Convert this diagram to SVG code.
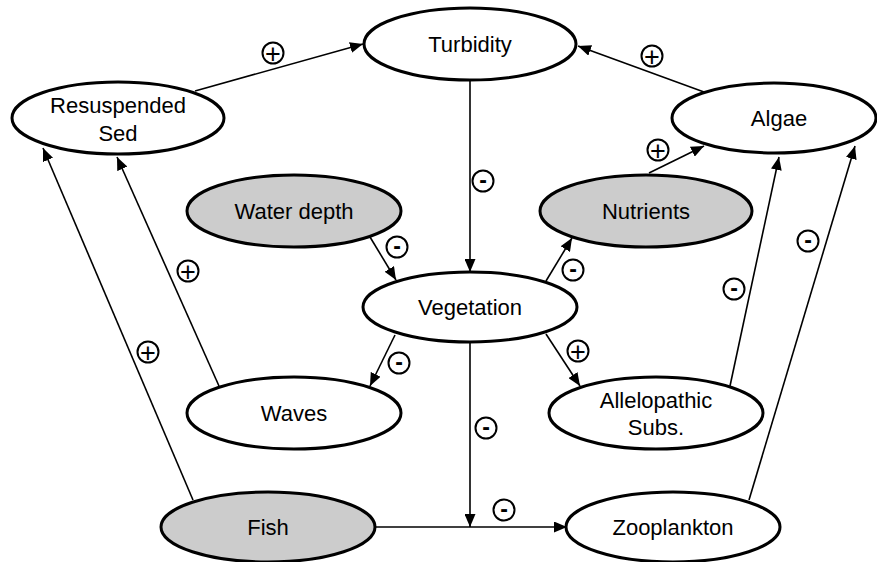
<svg xmlns="http://www.w3.org/2000/svg" width="877" height="562" viewBox="0 0 877 562">
<defs>
<marker id="arr" markerWidth="13" markerHeight="11" refX="13" refY="5.5" orient="auto" markerUnits="userSpaceOnUse">
<path d="M0,0 L13,5.5 L0,11 z" fill="#000"/>
</marker>
<style>
.node ellipse{fill:#fff;stroke:#000;stroke-width:3}
.node.grey ellipse{fill:#cccccc}
.node text{font-family:"Liberation Sans",Arial,sans-serif;font-size:22px;text-anchor:middle;fill:#000}
.edges line{stroke:#000;stroke-width:1.6;fill:none}
.edges .a{marker-end:url(#arr)}
.sign circle{fill:#fff;stroke:#000;stroke-width:2}
.sign text{font-family:"Liberation Sans",Arial,sans-serif;font-size:23px;font-weight:bold;text-anchor:middle;fill:#000}
.sign text.p{font-size:27px;font-weight:normal}
</style>
</defs>
<rect width="877" height="562" fill="#fff"/>
<g id="connectors" class="edges">
<line class="a" x1="195" y1="91" x2="363" y2="44"/>
<line class="a" x1="704" y1="92" x2="578" y2="46"/>
<line class="a" x1="470" y1="80" x2="470" y2="272"/>
<line class="a" x1="649" y1="173" x2="704" y2="146"/>
<line class="a" x1="370" y1="237" x2="396" y2="280"/>
<line class="a" x1="546" y1="281" x2="572" y2="238"/>
<line class="a" x1="395" y1="335" x2="370" y2="386"/>
<line class="a" x1="546" y1="334" x2="580" y2="386"/>
<line class="a" x1="470" y1="342" x2="470" y2="527"/>
<line class="a" x1="375" y1="527" x2="567" y2="527"/>
<line class="a" x1="219" y1="386" x2="117" y2="157"/>
<line class="a" x1="193" y1="500" x2="43" y2="148"/>
<line class="a" x1="730" y1="386" x2="779" y2="157"/>
<line class="a" x1="749" y1="500" x2="855" y2="146"/>
</g>
<g id="signs" class="sign">
<g><circle cx="273" cy="53" r="10.5"/><text class="p" x="273" y="62.5">+</text></g>
<g><circle cx="652" cy="56" r="10.5"/><text class="p" x="652" y="65.5">+</text></g>
<g><circle cx="483" cy="181" r="10.5"/><text x="483" y="188">-</text></g>
<g><circle cx="658" cy="150" r="10.5"/><text class="p" x="658" y="159.5">+</text></g>
<g><circle cx="397" cy="247" r="10.5"/><text x="397" y="254">-</text></g>
<g><circle cx="573" cy="270" r="10.5"/><text x="573" y="277">-</text></g>
<g><circle cx="399" cy="363" r="10.5"/><text x="399" y="370">-</text></g>
<g><circle cx="578" cy="351" r="10.5"/><text class="p" x="578" y="360.5">+</text></g>
<g><circle cx="486" cy="428" r="10.5"/><text x="486" y="435">-</text></g>
<g><circle cx="504" cy="510" r="10.5"/><text x="504" y="517">-</text></g>
<g><circle cx="188" cy="271" r="10.5"/><text class="p" x="188" y="280.5">+</text></g>
<g><circle cx="148" cy="352" r="10.5"/><text class="p" x="148" y="361.5">+</text></g>
<g><circle cx="734" cy="289" r="10.5"/><text x="734" y="296">-</text></g>
<g><circle cx="808" cy="241" r="10.5"/><text x="808" y="248">-</text></g>
</g>
<g id="turbidity" class="node"><ellipse cx="470" cy="44" rx="106" ry="36"/><text x="470" y="52">Turbidity</text></g>
<g id="resuspended-sed" class="node"><ellipse cx="118" cy="118" rx="106" ry="36"/><text x="118" y="113">Resuspended</text><text x="118" y="141">Sed</text></g>
<g id="algae" class="node"><ellipse cx="774" cy="118" rx="102" ry="35"/><text x="779" y="126">Algae</text></g>
<g id="water-depth" class="node grey"><ellipse cx="294" cy="211" rx="107" ry="36"/><text x="294" y="219">Water depth</text></g>
<g id="nutrients" class="node grey"><ellipse cx="646" cy="211" rx="106" ry="36"/><text x="646" y="219">Nutrients</text></g>
<g id="vegetation" class="node"><ellipse cx="470" cy="307" rx="107" ry="35"/><text x="470" y="315">Vegetation</text></g>
<g id="waves" class="node"><ellipse cx="294" cy="413" rx="107" ry="36"/><text x="294" y="421">Waves</text></g>
<g id="allelopathic-subs" class="node"><ellipse cx="656" cy="413" rx="107" ry="36"/><text x="656" y="408">Allelopathic</text><text x="656" y="435">Subs.</text></g>
<g id="fish" class="node grey"><ellipse cx="268" cy="527" rx="107" ry="35"/><text x="268" y="535">Fish</text></g>
<g id="zooplankton" class="node"><ellipse cx="673" cy="527" rx="107" ry="35"/><text x="673" y="535">Zooplankton</text></g>
</svg>
